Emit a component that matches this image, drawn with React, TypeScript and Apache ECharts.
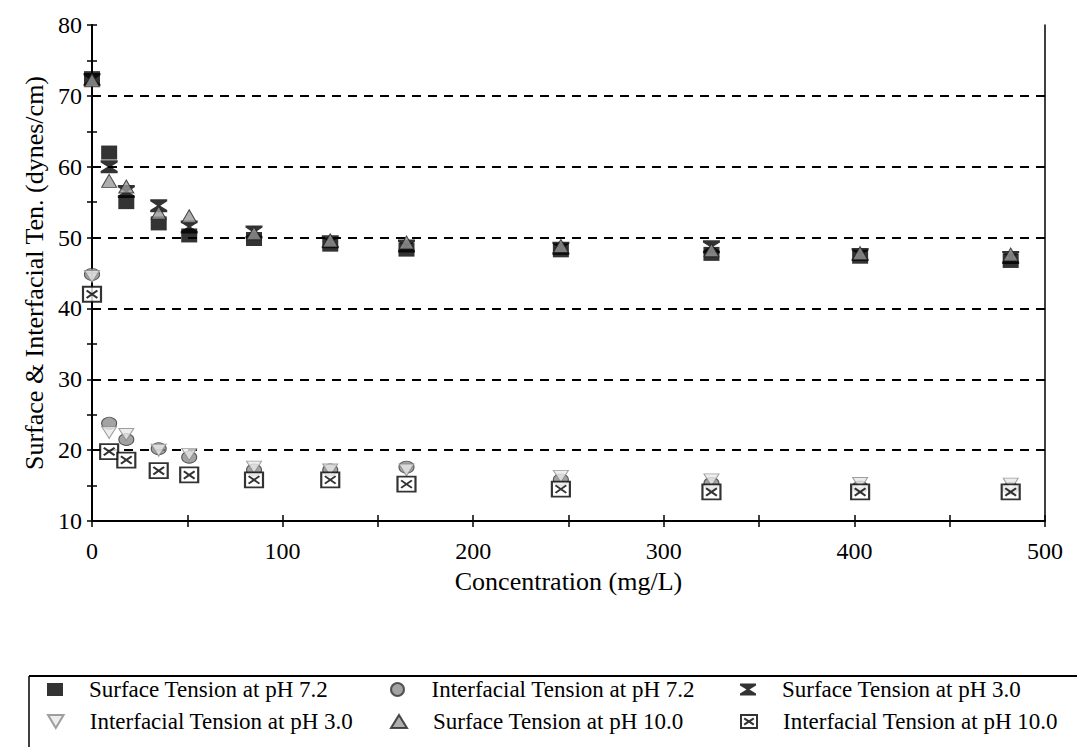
import React, { useEffect, useRef } from "react";
import * as echarts from "echarts";

const concentrations = [0, 9, 18, 35, 51, 85, 125, 165, 246, 325, 403, 482];
const surfacePH72 = [72.5, 62, 55, 52, 50.3, 49.8, 49, 48.3, 48.2, 47.7, 47.3, 46.7];
const interfacialPH72 = [44.8, 23.8, 21.5, 20.2, 19, 17.2, 17.2, 17.6, 15.8, 15.3, 14.8, 14.6];
const surfacePH30 = [72.3, 60, 56.5, 54.5, 51.5, 50.8, 49.4, 48.8, 48.5, 48.7, 47.6, 47.2];
const interfacialPH30 = [44.5, 22.5, 22.2, 20, 19.4, 17.6, 17.2, 17.2, 16.3, 15.8, 15.3, 15.2];
const surfacePH100 = [72.2, 58, 57.2, 53.5, 53, 50.6, 49.6, 49.3, 48.8, 48.2, 47.8, 47.6];
const interfacialPH100 = [42, 19.8, 18.6, 17.1, 16.5, 15.8, 15.8, 15.2, 14.5, 14.1, 14.1, 14.1];

const gridValues = [20, 30, 40, 50, 60, 70];
const seriesNames = [
  "Surface Tension at pH 7.2",
  "Interfacial Tension at pH 7.2",
  "Surface Tension at pH 3.0",
  "Interfacial Tension at pH 3.0",
  "Surface Tension at pH 10.0",
  "Interfacial Tension at pH 10.0",
];

const FONT = "'Liberation Serif', 'Times New Roman', serif";

function pairs(ys: number[]) {
  return concentrations.map((c, i) => [c, ys[i]]);
}

export default function App() {
  const ref = useRef<HTMLDivElement>(null);
  useEffect(() => {
    if (!ref.current) return;
    const chart = echarts.init(ref.current, undefined, { renderer: "svg" });
    const hourglass = "path://M0,0 L16,0 L16,2 L9.5,6 L16,10 L16,12 L0,12 L0,10 L6.5,6 L0,2 Z";
    const xbox = "path://M0,0 L20,0 L20,16 L0,16 Z M4,4 L16,12 M16,4 L4,12";
    const invTri = "path://M0,0 L12,0 L6,10 Z";
    const styles: any[] = [
      { symbol: "rect", symbolSize: [16, 14], itemStyle: { color: "#000" } },
      { symbol: "circle", symbolSize: [15, 12], itemStyle: { color: "#8c8c8c", borderColor: "#333", borderWidth: 1 } },
      { symbol: hourglass, symbolSize: [17, 13], itemStyle: { color: "#000" } },
      { symbol: invTri, symbolSize: [15, 12], itemStyle: { color: "#e8e8e8", borderColor: "#888", borderWidth: 1 } },
      { symbol: "triangle", symbolSize: [15, 13], itemStyle: { color: "#9a9a9a", borderColor: "#222", borderWidth: 1 } },
      { symbol: xbox, symbolSize: [18, 15], itemStyle: { color: "#fff", borderColor: "#000", borderWidth: 2 } },
    ];
    const datasets = [surfacePH72, interfacialPH72, surfacePH30, interfacialPH30, surfacePH100, interfacialPH100];
    const series: any[] = datasets.map((d, i) => ({
      type: "scatter",
      name: seriesNames[i],
      data: pairs(d),
      xAxisIndex: 0,
      yAxisIndex: 0,
      symbol: styles[i].symbol,
      symbolSize: styles[i].symbolSize,
      itemStyle: styles[i].itemStyle,
      z: 3 + i,
    }));
    series[0].markLine = {
      silent: true,
      symbol: "none",
      label: { show: false },
      lineStyle: { type: [9, 7], color: "#000", width: 2 },
      data: gridValues.map((v) => ({ yAxis: v })),
      z: 1,
    };

    const colLeft = [47, 390, 740];
    const rowTop = [678, 710];
    const legends = seriesNames.map((n, i) => ({
      data: [n],
      left: colLeft[i % 3],
      top: rowTop[Math.floor(i / 3)],
      padding: 0,
      itemWidth: 16,
      itemHeight: 13,
      selectedMode: false,
      textStyle: { fontFamily: FONT, fontSize: 23, color: "#000", padding: [0, 0, 0, 21] },
    }));

    const axisFontLabel = { fontFamily: FONT, fontSize: 24, color: "#000" };

    chart.setOption({
      animation: false,
      backgroundColor: "#fff",
      grid: { left: 92, right: 32, top: 25, bottom: 226, containLabel: false },
      xAxis: [
        {
          type: "value",
          min: 0,
          max: 500,
          interval: 50,
          position: "bottom",
          name: "Concentration (mg/L)",
          nameLocation: "middle",
          nameGap: 47,
          nameMoveOverlap: false,
          nameTextStyle: { fontFamily: FONT, fontSize: 26, color: "#000" },
          axisLine: { show: true, lineStyle: { color: "#000", width: 2 } },
          axisTick: { show: true, inside: false, length: 6, lineStyle: { color: "#000", width: 1.5 } },
          axisLabel: { ...axisFontLabel, margin: 18, formatter: (v: number) => (v % 100 === 0 ? String(v) : "") },
          splitLine: { show: false },
        },
        {
          type: "value",
          min: 0,
          max: 500,
          interval: 50,
          position: "bottom",
          axisLine: { show: false },
          axisTick: { show: true, inside: true, length: 6, lineStyle: { color: "#000", width: 1.5 } },
          axisLabel: { show: false },
          splitLine: { show: false },
        },
      ],
      yAxis: [
        {
          type: "value",
          min: 10,
          max: 80,
          interval: 5,
          position: "left",
          name: "Surface & Interfacial Ten. (dynes/cm)",
          nameLocation: "middle",
          nameGap: 40,
          nameTextStyle: { fontFamily: FONT, fontSize: 26, color: "#000" },
          axisLine: { show: true, lineStyle: { color: "#000", width: 2 } },
          axisTick: { show: true, inside: false, length: 5, lineStyle: { color: "#000", width: 1.5 } },
          axisLabel: { ...axisFontLabel, margin: 10, formatter: (v: number) => (v % 10 === 0 ? String(v) : "") },
          splitLine: { show: false },
        },
        {
          type: "value",
          min: 10,
          max: 80,
          interval: 5,
          position: "left",
          axisLine: { show: false },
          axisTick: { show: true, inside: true, length: 5, lineStyle: { color: "#000", width: 1.5 } },
          axisLabel: { show: false },
          splitLine: { show: false },
        },
        {
          type: "value",
          min: 10,
          max: 80,
          interval: 10,
          position: "right",
          axisLine: { show: true, lineStyle: { color: "#000", width: 1.5 } },
          axisTick: { show: false },
          axisLabel: { show: false },
          splitLine: { show: false },
        },
      ],
      legend: legends,
      graphic: [
        { type: "line", shape: { x1: 29, y1: 676, x2: 1077, y2: 676 }, style: { stroke: "#000", lineWidth: 2 } },
        { type: "line", shape: { x1: 29, y1: 676, x2: 29, y2: 747 }, style: { stroke: "#000", lineWidth: 1.5 } },
      ],
      series,
    });
    return () => chart.dispose();
  }, []);
  return (
    <div
      ref={ref}
      style={{ position: "absolute", left: 0, top: 0, width: 1077, height: 747, background: "#fff" }}
    />
  );
}
